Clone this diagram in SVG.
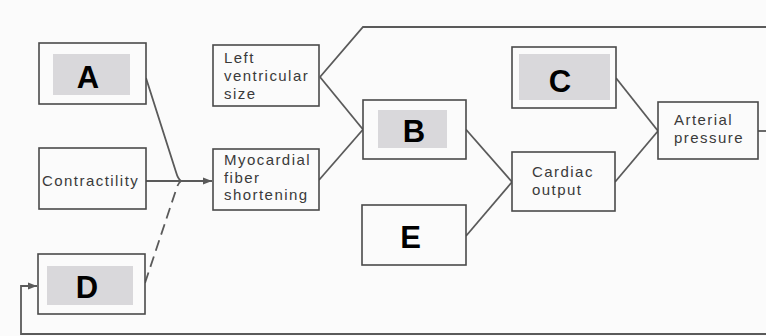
<svg xmlns="http://www.w3.org/2000/svg" width="766" height="336" viewBox="0 0 766 336">
  <style>
    .box { fill: #fbfbfb; stroke: #4a4a4a; stroke-width: 1.6; }
    .inner { fill: #d9d8db; stroke: none; }
    .lbl { font-family: "Liberation Sans", Arial, sans-serif; font-size: 15px; letter-spacing: 1.45px; fill: #3a3a3a; }
    .big { font-family: "Liberation Sans", Arial, sans-serif; font-size: 31px; font-weight: bold; fill: #000; text-anchor: middle; }
    .ln { fill: none; stroke: #5a5a5a; stroke-width: 1.8; }
    .dash { stroke-dasharray: 11 6; }
  </style>
  <defs>
    <marker id="arr" viewBox="0 0 10 10" refX="10" refY="5" markerWidth="9" markerHeight="9" markerUnits="userSpaceOnUse" orient="auto">
      <path d="M0,1 L10,5 L0,9 Z" fill="#5a5a5a"/>
    </marker>
  </defs>
  <rect x="0" y="0" width="766" height="336" fill="#fbfbfb"/>

  <g id="connectors">
    <path class="ln" d="M146,78 L176,172 Q178,179 181,181"/>
    <path class="ln dash" d="M145,283 L176,190 Q178,183 181,181"/>
    <path class="ln" d="M146,181 L212,181" marker-end="url(#arr)"/>
    <path class="ln" d="M320,77 L363,27 L766,27"/>
    <path class="ln" d="M320,77 L363,129.5"/>
    <path class="ln" d="M319,180 L363,129.5"/>
    <path class="ln" d="M466,129.5 L512,182"/>
    <path class="ln" d="M466,236 L512,182"/>
    <path class="ln" d="M616,78 L658,131"/>
    <path class="ln" d="M615,182 L658,131"/>
    <path class="ln" d="M758,131 L766,131"/>
    <path class="ln" d="M766,334 L21,334 L21,286 L37,286" marker-end="url(#arr)"/>
  </g>

  <g id="nodeA">
    <rect class="box" x="39" y="43" width="107" height="61"/>
    <rect class="inner" x="53" y="54" width="77" height="41"/>
    <text class="big" x="88" y="88">A</text>
  </g>
  <g id="nodeContractility">
    <rect class="box" x="39" y="148" width="107" height="61"/>
    <text class="lbl" x="42" y="186">Contractility</text>
  </g>
  <g id="nodeD">
    <rect class="box" x="38" y="254" width="107" height="60"/>
    <rect class="inner" x="47" y="266" width="86" height="39"/>
    <text class="big" x="87" y="298">D</text>
  </g>
  <g id="nodeLVSize">
    <rect class="box" x="213" y="45" width="106" height="61"/>
    <text class="lbl" x="224" y="63">Left</text>
    <text class="lbl" x="224" y="81">ventricular</text>
    <text class="lbl" x="224" y="99">size</text>
  </g>
  <g id="nodeMyo">
    <rect class="box" x="213" y="149" width="106" height="61"/>
    <text class="lbl" x="224" y="164.5">Myocardial</text>
    <text class="lbl" x="224" y="182.5">fiber</text>
    <text class="lbl" x="224" y="200">shortening</text>
  </g>
  <g id="nodeB">
    <rect class="box" x="363" y="100" width="103" height="59"/>
    <rect class="inner" x="378" y="110" width="69" height="38"/>
    <text class="big" x="414" y="141.5">B</text>
  </g>
  <g id="nodeE">
    <rect class="box" x="362" y="205" width="104" height="60"/>
    <text class="big" x="410.5" y="248">E</text>
  </g>
  <g id="nodeC">
    <rect class="box" x="512" y="47" width="104" height="61"/>
    <rect class="inner" x="519" y="54" width="91" height="46"/>
    <text class="big" x="560" y="91.5">C</text>
  </g>
  <g id="nodeCO">
    <rect class="box" x="512" y="152" width="103" height="59"/>
    <text class="lbl" x="532" y="177">Cardiac</text>
    <text class="lbl" x="532" y="195">output</text>
  </g>
  <g id="nodeAP">
    <rect class="box" x="658" y="102" width="100" height="57"/>
    <text class="lbl" x="674" y="125">Arterial</text>
    <text class="lbl" x="674" y="143">pressure</text>
  </g>
</svg>
